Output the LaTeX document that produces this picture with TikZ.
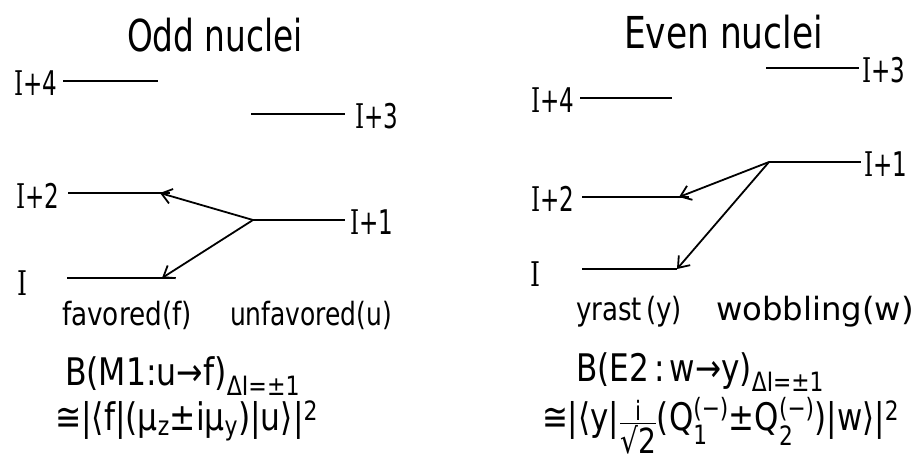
\documentclass[tikz,border=0pt]{standalone}
\usepackage{amsmath}
\usepackage{graphicx}
\usepackage{fontspec}
\setmainfont{DejaVu Sans}
\newfontfamily\serifI{DejaVu Serif}
\usetikzlibrary{arrows.meta}
\newcommand\fitw[2]{\resizebox{#1}{\height}{#2}}
\newcommand\lv[1]{\fitw{43pt}{\fontsize{34}{36}\selectfont{\serifI I}+#1}}
\newcommand\lvI{\fitw{10pt}{\fontsize{34}{36}\selectfont\serifI I}}
\newcommand\ftitle{\fontsize{44}{46}\selectfont}
\newcommand\fname{\fontsize{32}{34}\selectfont}
\newcommand\fform{\fontsize{38}{40}\selectfont}
\begin{document}
\begin{tikzpicture}[x=1pt,y=-1pt,
  lvl/.style={line width=2.8pt},
  tr/.style={line width=1.8pt,-{Straight Barb[length=10pt,width=15pt,line width=1.8pt]}},
  txt/.style={inner sep=0pt,outer sep=0pt}]
\useasboundingbox[fill=white] (0,0) rectangle (919,464);

% ---------------- Odd nuclei ----------------
\node[txt,anchor=base west] (tOdd) at (127,51) {\fitw{176pt}{\ftitle Odd nuclei}};

\coordinate (oL4a) at (63,81);  \coordinate (oL4b) at (158,81);
\coordinate (oL3a) at (251,114); \coordinate (oL3b) at (345,114);
\coordinate (oL2a) at (68,193);  \coordinate (oL2b) at (170,193);
\coordinate (oL1a) at (253,220); \coordinate (oL1b) at (345,220);
\coordinate (oL0a) at (67,278);  \coordinate (oL0b) at (175,278);
\coordinate (oT2) at (160,193);  \coordinate (oT0) at (162,278);

\draw[lvl] (oL4a) -- (oL4b);
\draw[lvl] (oL3a) -- (oL3b);
\draw[lvl] (oL2a) -- (oL2b);
\draw[lvl] (oL1a) -- (oL1b);
\draw[lvl] (oL0a) -- (oL0b);

\node[txt,anchor=east] (oN4) at (57,83) {\lv{4}};
\node[txt,anchor=west] (oN3) at (355,116) {\lv{3}};
\node[txt,anchor=east] (oN2) at (59,196) {\lv{2}};
\node[txt,anchor=west] (oN1) at (350,222) {\lv{1}};
\node[txt] (oN0) at (22,283) {\lvI};

\draw[tr] (oL1a) -- (oT2);
\draw[tr] (oL1a) -- (oT0);

\node[txt,anchor=base west] (fav) at (62,325) {\fitw{130pt}{\fname favored(f)}};
\node[txt,anchor=base west] (unf) at (230,325) {\fitw{162pt}{\fname unfavored(u)}};

\node[txt,anchor=base west] (oB) at (65,385)
  {\fitw{235pt}{\fform B(M1:u→f)$_{\text{ΔI=±1}}$}};
\node[txt,anchor=base west] (oM) at (55,430)
  {\fitw{263pt}{\fform ≅|⟨f|(μ$_{\text{z}}$±iμ$_{\text{y}}$)|u⟩|$^{\text{2}}$}};

% ---------------- Even nuclei ----------------
\node[txt,anchor=base west] (tEven) at (624,48) {\fitw{199pt}{\ftitle Even nuclei}};

\coordinate (eL3a) at (766,68);  \coordinate (eL3b) at (859,68);
\coordinate (eL4a) at (580,98);  \coordinate (eL4b) at (672,98);
\coordinate (eL1a) at (769,162); \coordinate (eL1b) at (861,162);
\coordinate (eL2a) at (582,197); \coordinate (eL2b) at (689,197);
\coordinate (eL0a) at (582,269); \coordinate (eL0b) at (677,269);
\coordinate (eT2) at (679,197);  \coordinate (eT0) at (677,269);

\draw[lvl] (eL3a) -- (eL3b);
\draw[lvl] (eL4a) -- (eL4b);
\draw[lvl] (eL1a) -- (eL1b);
\draw[lvl] (eL2a) -- (eL2b);
\draw[lvl] (eL0a) -- (eL0b);

\node[txt,anchor=west] (eN3) at (862,70) {\lv{3}};
\node[txt,anchor=east] (eN4) at (574,100) {\lv{4}};
\node[txt,anchor=west] (eN1) at (864,164) {\lv{1}};
\node[txt,anchor=east] (eN2) at (574,199) {\lv{2}};
\node[txt] (eN0) at (535,274) {\lvI};

\draw[tr] (eL1a) -- (eT2);
\draw[tr] (eL1a) -- (eT0);

\node[txt,anchor=base west] (yr) at (576,320) {\fitw{106pt}{\fname yrast\,(y)}};
\node[txt,anchor=base west] (wob) at (716,320) {\fitw{198pt}{\fname wobbling(w)}};

\node[txt,anchor=base west] (eB) at (576,381)
  {\fitw{248pt}{\fform B(E2\,:\,w→y)$_{\text{ΔI=±1}}$}};
\node[txt,anchor=base west] (eM) at (542,430)
  {\fitw{357pt}{\fform ≅|⟨y|$\textstyle\frac{\text{i}}{\text{\raisebox{-3pt}{\scalebox{1.3}{√2}}}}$(Q$_{\text{1}}^{\text{(−)}}$±Q$_{\text{2}}^{\text{(−)}}$)|w⟩|$^{\text{2}}$}};
\end{tikzpicture}
\end{document}
